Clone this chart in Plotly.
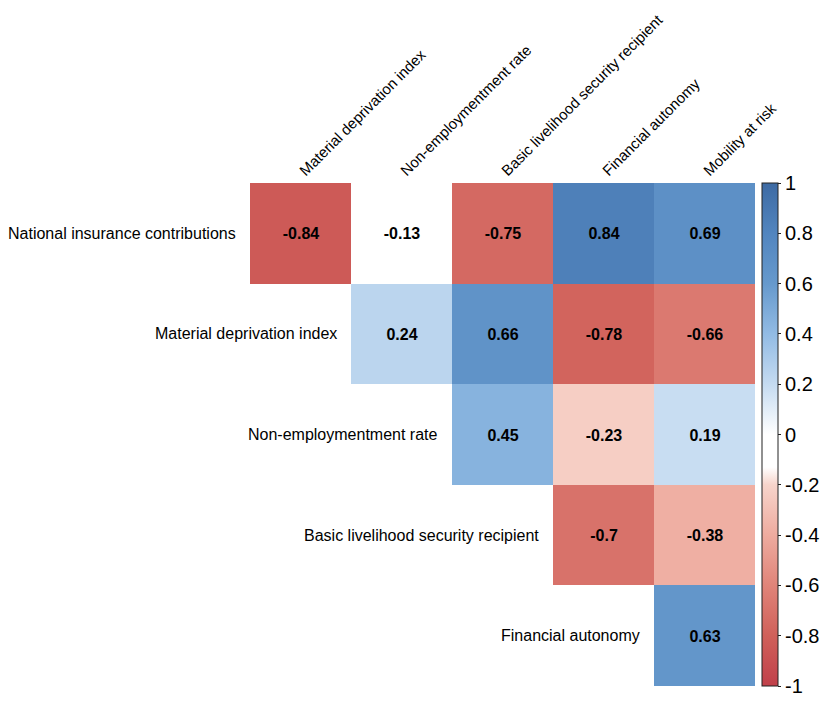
import plotly.graph_objects as go

row_labels = ["National insurance contributions", "Material deprivation index",
              "Non-employmentment rate", "Basic livelihood security recipient",
              "Financial autonomy"]
col_labels = ["Material deprivation index", "Non-employmentment rate",
              "Basic livelihood security recipient", "Financial autonomy",
              "Mobility at risk"]
corr = [
    [-0.84, -0.13, -0.75, 0.84, 0.69],
    [None, 0.24, 0.66, -0.78, -0.66],
    [None, None, 0.45, -0.23, 0.19],
    [None, None, None, -0.7, -0.38],
    [None, None, None, None, 0.63],
]
cbar_vals = [1, 0.8, 0.6, 0.4, 0.2, 0, -0.2, -0.4, -0.6, -0.8, -1]

text = [["" if v is None else f"{v:g}" for v in row] for row in corr]

colorscale = [
    [0.0, "#c0404a"],
    [0.1, "#d0605a"],
    [0.2, "#e08479"],
    [0.3, "#eeab9f"],
    [0.4, "#f7d4cb"],
    [0.435, "#ffffff"],
    [0.5, "#ffffff"],
    [0.6, "#c5dbf1"],
    [0.7, "#92bbe4"],
    [0.8, "#6699cc"],
    [0.9, "#5285bf"],
    [1.0, "#3d6aa3"],
]

FONT = "Liberation Sans, Arial"

fig = go.Figure(go.Heatmap(
    z=corr,
    x=list(range(len(col_labels))),
    y=list(range(len(row_labels))),
    text=text,
    texttemplate="%{text}",
    textfont=dict(family=FONT, size=16, color="black", weight="bold"),
    colorscale=colorscale,
    zmin=-1, zmax=1,
    xgap=0, ygap=0,
    hoverongaps=False,
    colorbar=dict(
        x=1.014, xanchor="left", xref="paper",
        y=0.5, yanchor="middle", len=1.0, lenmode="fraction",
        thickness=16, thicknessmode="pixels",
        outlinecolor="#222222", outlinewidth=1,
        tickvals=cbar_vals,
        ticktext=[f"{v:g}" for v in cbar_vals],
        ticks="outside", ticklen=3, tickcolor="#222222", tickwidth=1,
        tickfont=dict(family=FONT, size=20, color="black"),
        ypad=0, xpad=0,
    ),
))

for i, lab in enumerate(row_labels):
    fig.add_annotation(
        x=i - 0.5, y=i, xref="x", yref="y",
        text=lab, showarrow=False, xanchor="right", yanchor="middle",
        xshift=-12,
        font=dict(family=FONT, size=16, color="black"),
    )

fig.update_xaxes(
    side="top",
    tickmode="array",
    tickvals=list(range(len(col_labels))),
    ticktext=col_labels,
    tickangle=-45,
    tickfont=dict(family=FONT, size=15, color="black"),
    showgrid=False, zeroline=False, showline=False, ticks="",
    range=[-0.5, 4.5],
)
fig.update_yaxes(
    autorange="reversed", showticklabels=False, showgrid=False,
    zeroline=False, showline=False, ticks="",
)

fig.update_layout(
    width=813, height=689,
    margin=dict(l=242, r=66, t=175, b=11, autoexpand=False),
    paper_bgcolor="white", plot_bgcolor="white",
    showlegend=False,
)

fig.write_html("out.html")
